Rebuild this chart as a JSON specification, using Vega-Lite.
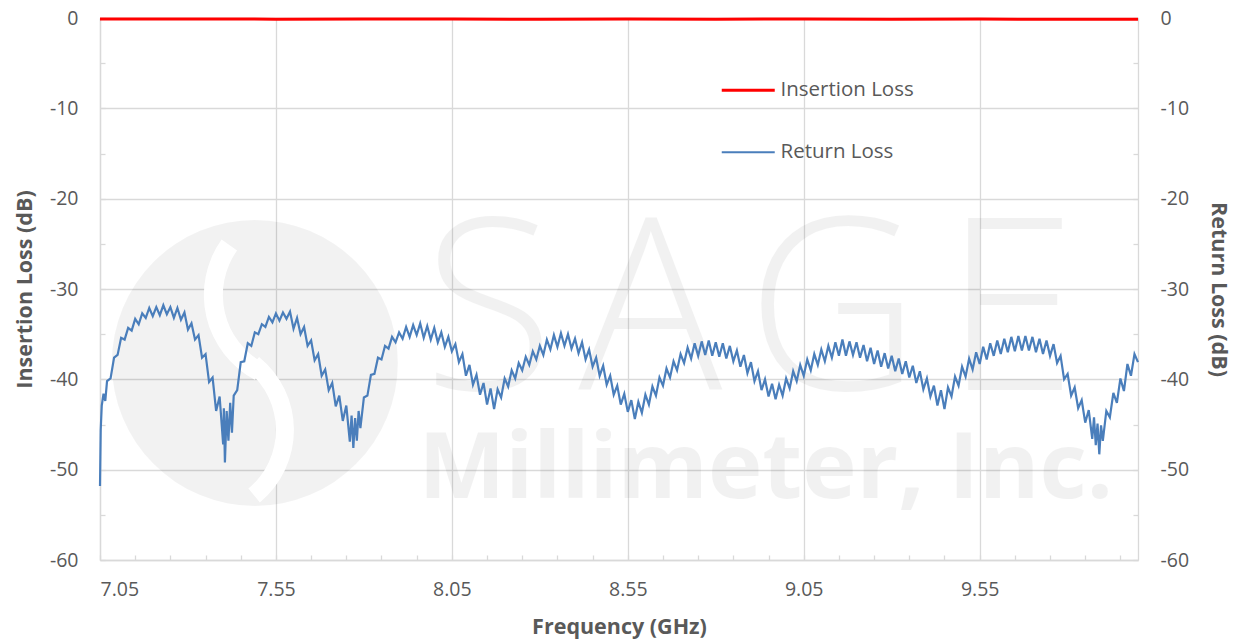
{
  "$schema": "https://vega.github.io/schema/vega-lite/v6.json",
  "width": 1038,
  "height": 542,
  "autosize": {"type": "none"},
  "padding": {"left": 100, "top": 18, "right": 101, "bottom": 82},
  "background": "white",
  "config": {
    "view": {"stroke": null},
    "font": "Open Sans",
    "axis": {
      "domainColor": "#D9D9D9",
      "domainWidth": 1.3,
      "tickColor": "#D9D9D9",
      "tickWidth": 1.3,
      "tickSize": -5,
      "tickCount": 100,
      "gridColor": "#D9D9D9",
      "gridWidth": 1.3,
      "labelColor": "#595959",
      "labelFont": "Open Sans",
      "labelFontSize": 19.5,
      "labelOverlap": false,
      "titleColor": "#595959",
      "titleFont": "Open Sans",
      "titleFontSize": 21.5,
      "titleFontWeight": "bold"
    }
  },
  "datasets": {
    "wm": [
      {"k": "logo", "t": "", "f": 7.49, "v": -38.19},
      {"k": "arc1", "t": "", "f": 7.618, "v": -30.67},
      {"k": "arc2", "t": "", "f": 7.334, "v": -45.61},
      {"k": "big", "t": "S\u200aA\u200aG\u200aE", "f": 8.897, "v": -41.18},
      {"k": "small", "t": "Millimeter, Inc.", "f": 8.942, "v": -53.14}
    ],
    "loss": [
      {"s": "Insertion Loss", "f": 7.05, "v": -0.12},
      {"s": "Insertion Loss", "f": 7.3, "v": -0.1},
      {"s": "Insertion Loss", "f": 7.55, "v": -0.13},
      {"s": "Insertion Loss", "f": 7.8, "v": -0.11},
      {"s": "Insertion Loss", "f": 8.05, "v": -0.12},
      {"s": "Insertion Loss", "f": 8.3, "v": -0.14},
      {"s": "Insertion Loss", "f": 8.55, "v": -0.12},
      {"s": "Insertion Loss", "f": 8.8, "v": -0.13},
      {"s": "Insertion Loss", "f": 9.05, "v": -0.11},
      {"s": "Insertion Loss", "f": 9.3, "v": -0.13},
      {"s": "Insertion Loss", "f": 9.55, "v": -0.12},
      {"s": "Insertion Loss", "f": 9.8, "v": -0.14},
      {"s": "Insertion Loss", "f": 10.0, "v": -0.13},
      {"s": "Return Loss", "f": 7.05, "v": -51.8},
      {"s": "Return Loss", "f": 7.052, "v": -45.6},
      {"s": "Return Loss", "f": 7.055, "v": -42.9},
      {"s": "Return Loss", "f": 7.06, "v": -41.6},
      {"s": "Return Loss", "f": 7.065, "v": -42.4},
      {"s": "Return Loss", "f": 7.07, "v": -40.2},
      {"s": "Return Loss", "f": 7.08, "v": -39.9},
      {"s": "Return Loss", "f": 7.09, "v": -37.6},
      {"s": "Return Loss", "f": 7.1, "v": -37.3},
      {"s": "Return Loss", "f": 7.11, "v": -35.4},
      {"s": "Return Loss", "f": 7.12, "v": -35.6},
      {"s": "Return Loss", "f": 7.13, "v": -34.3},
      {"s": "Return Loss", "f": 7.14, "v": -34.6},
      {"s": "Return Loss", "f": 7.15, "v": -33.3},
      {"s": "Return Loss", "f": 7.16, "v": -33.9},
      {"s": "Return Loss", "f": 7.17, "v": -32.7},
      {"s": "Return Loss", "f": 7.18, "v": -33.2},
      {"s": "Return Loss", "f": 7.19, "v": -32.1},
      {"s": "Return Loss", "f": 7.2, "v": -33.0},
      {"s": "Return Loss", "f": 7.21, "v": -32.0},
      {"s": "Return Loss", "f": 7.22, "v": -32.9},
      {"s": "Return Loss", "f": 7.23, "v": -31.8},
      {"s": "Return Loss", "f": 7.24, "v": -32.8},
      {"s": "Return Loss", "f": 7.25, "v": -32.0},
      {"s": "Return Loss", "f": 7.26, "v": -33.2},
      {"s": "Return Loss", "f": 7.27, "v": -32.1},
      {"s": "Return Loss", "f": 7.28, "v": -33.4},
      {"s": "Return Loss", "f": 7.29, "v": -32.6},
      {"s": "Return Loss", "f": 7.3, "v": -34.5},
      {"s": "Return Loss", "f": 7.31, "v": -33.8},
      {"s": "Return Loss", "f": 7.32, "v": -35.6},
      {"s": "Return Loss", "f": 7.33, "v": -35.1},
      {"s": "Return Loss", "f": 7.34, "v": -37.6},
      {"s": "Return Loss", "f": 7.35, "v": -37.2},
      {"s": "Return Loss", "f": 7.36, "v": -40.3},
      {"s": "Return Loss", "f": 7.37, "v": -39.8},
      {"s": "Return Loss", "f": 7.38, "v": -43.5},
      {"s": "Return Loss", "f": 7.39, "v": -41.9},
      {"s": "Return Loss", "f": 7.4, "v": -47.2},
      {"s": "Return Loss", "f": 7.402, "v": -43.2},
      {"s": "Return Loss", "f": 7.405, "v": -49.2},
      {"s": "Return Loss", "f": 7.41, "v": -43.5},
      {"s": "Return Loss", "f": 7.415, "v": -46.8},
      {"s": "Return Loss", "f": 7.42, "v": -42.6},
      {"s": "Return Loss", "f": 7.425, "v": -45.9},
      {"s": "Return Loss", "f": 7.43, "v": -41.8},
      {"s": "Return Loss", "f": 7.44, "v": -41.2},
      {"s": "Return Loss", "f": 7.45, "v": -38.1},
      {"s": "Return Loss", "f": 7.46, "v": -38.0},
      {"s": "Return Loss", "f": 7.47, "v": -36.0},
      {"s": "Return Loss", "f": 7.48, "v": -36.3},
      {"s": "Return Loss", "f": 7.49, "v": -34.8},
      {"s": "Return Loss", "f": 7.5, "v": -35.0},
      {"s": "Return Loss", "f": 7.51, "v": -33.9},
      {"s": "Return Loss", "f": 7.52, "v": -34.2},
      {"s": "Return Loss", "f": 7.53, "v": -33.1},
      {"s": "Return Loss", "f": 7.54, "v": -33.7},
      {"s": "Return Loss", "f": 7.55, "v": -32.7},
      {"s": "Return Loss", "f": 7.56, "v": -33.5},
      {"s": "Return Loss", "f": 7.57, "v": -32.6},
      {"s": "Return Loss", "f": 7.58, "v": -33.3},
      {"s": "Return Loss", "f": 7.59, "v": -32.5},
      {"s": "Return Loss", "f": 7.6, "v": -34.4},
      {"s": "Return Loss", "f": 7.61, "v": -33.2},
      {"s": "Return Loss", "f": 7.62, "v": -35.0},
      {"s": "Return Loss", "f": 7.63, "v": -34.2},
      {"s": "Return Loss", "f": 7.64, "v": -36.3},
      {"s": "Return Loss", "f": 7.65, "v": -35.7},
      {"s": "Return Loss", "f": 7.66, "v": -37.9},
      {"s": "Return Loss", "f": 7.67, "v": -37.2},
      {"s": "Return Loss", "f": 7.68, "v": -39.6},
      {"s": "Return Loss", "f": 7.69, "v": -38.9},
      {"s": "Return Loss", "f": 7.7, "v": -41.2},
      {"s": "Return Loss", "f": 7.71, "v": -40.4},
      {"s": "Return Loss", "f": 7.72, "v": -43.0},
      {"s": "Return Loss", "f": 7.73, "v": -41.8},
      {"s": "Return Loss", "f": 7.74, "v": -44.6},
      {"s": "Return Loss", "f": 7.75, "v": -42.9},
      {"s": "Return Loss", "f": 7.76, "v": -46.9},
      {"s": "Return Loss", "f": 7.765, "v": -44.0},
      {"s": "Return Loss", "f": 7.77, "v": -47.6},
      {"s": "Return Loss", "f": 7.775, "v": -44.3},
      {"s": "Return Loss", "f": 7.78, "v": -46.8},
      {"s": "Return Loss", "f": 7.785, "v": -43.5},
      {"s": "Return Loss", "f": 7.79, "v": -45.4},
      {"s": "Return Loss", "f": 7.8, "v": -42.0},
      {"s": "Return Loss", "f": 7.81, "v": -41.8},
      {"s": "Return Loss", "f": 7.82, "v": -39.5},
      {"s": "Return Loss", "f": 7.83, "v": -39.4},
      {"s": "Return Loss", "f": 7.84, "v": -37.6},
      {"s": "Return Loss", "f": 7.85, "v": -37.8},
      {"s": "Return Loss", "f": 7.86, "v": -36.3},
      {"s": "Return Loss", "f": 7.87, "v": -36.6},
      {"s": "Return Loss", "f": 7.88, "v": -35.3},
      {"s": "Return Loss", "f": 7.89, "v": -35.9},
      {"s": "Return Loss", "f": 7.9, "v": -34.8},
      {"s": "Return Loss", "f": 7.91, "v": -35.5},
      {"s": "Return Loss", "f": 7.92, "v": -34.2},
      {"s": "Return Loss", "f": 7.93, "v": -35.3},
      {"s": "Return Loss", "f": 7.94, "v": -34.0},
      {"s": "Return Loss", "f": 7.95, "v": -35.1},
      {"s": "Return Loss", "f": 7.96, "v": -33.8},
      {"s": "Return Loss", "f": 7.97, "v": -35.4},
      {"s": "Return Loss", "f": 7.98, "v": -34.1},
      {"s": "Return Loss", "f": 7.99, "v": -35.6},
      {"s": "Return Loss", "f": 8.0, "v": -34.3},
      {"s": "Return Loss", "f": 8.01, "v": -35.9},
      {"s": "Return Loss", "f": 8.02, "v": -34.8},
      {"s": "Return Loss", "f": 8.03, "v": -36.4},
      {"s": "Return Loss", "f": 8.04, "v": -35.3},
      {"s": "Return Loss", "f": 8.05, "v": -36.9},
      {"s": "Return Loss", "f": 8.06, "v": -36.1},
      {"s": "Return Loss", "f": 8.07, "v": -38.1},
      {"s": "Return Loss", "f": 8.08, "v": -37.2},
      {"s": "Return Loss", "f": 8.09, "v": -39.6},
      {"s": "Return Loss", "f": 8.1, "v": -38.4},
      {"s": "Return Loss", "f": 8.11, "v": -40.6},
      {"s": "Return Loss", "f": 8.12, "v": -39.5},
      {"s": "Return Loss", "f": 8.13, "v": -41.7},
      {"s": "Return Loss", "f": 8.14, "v": -40.4},
      {"s": "Return Loss", "f": 8.15, "v": -42.8},
      {"s": "Return Loss", "f": 8.16, "v": -41.0},
      {"s": "Return Loss", "f": 8.17, "v": -43.3},
      {"s": "Return Loss", "f": 8.18, "v": -41.1},
      {"s": "Return Loss", "f": 8.19, "v": -42.0},
      {"s": "Return Loss", "f": 8.2, "v": -39.9},
      {"s": "Return Loss", "f": 8.21, "v": -40.8},
      {"s": "Return Loss", "f": 8.22, "v": -39.0},
      {"s": "Return Loss", "f": 8.23, "v": -39.9},
      {"s": "Return Loss", "f": 8.24, "v": -38.2},
      {"s": "Return Loss", "f": 8.25, "v": -39.0},
      {"s": "Return Loss", "f": 8.26, "v": -37.5},
      {"s": "Return Loss", "f": 8.27, "v": -38.4},
      {"s": "Return Loss", "f": 8.28, "v": -36.9},
      {"s": "Return Loss", "f": 8.29, "v": -37.8},
      {"s": "Return Loss", "f": 8.3, "v": -36.3},
      {"s": "Return Loss", "f": 8.31, "v": -37.3},
      {"s": "Return Loss", "f": 8.32, "v": -35.6},
      {"s": "Return Loss", "f": 8.33, "v": -36.7},
      {"s": "Return Loss", "f": 8.34, "v": -35.1},
      {"s": "Return Loss", "f": 8.35, "v": -36.4},
      {"s": "Return Loss", "f": 8.36, "v": -34.9},
      {"s": "Return Loss", "f": 8.37, "v": -36.3},
      {"s": "Return Loss", "f": 8.38, "v": -35.0},
      {"s": "Return Loss", "f": 8.39, "v": -36.6},
      {"s": "Return Loss", "f": 8.4, "v": -35.5},
      {"s": "Return Loss", "f": 8.41, "v": -37.1},
      {"s": "Return Loss", "f": 8.42, "v": -35.9},
      {"s": "Return Loss", "f": 8.43, "v": -37.8},
      {"s": "Return Loss", "f": 8.44, "v": -36.7},
      {"s": "Return Loss", "f": 8.45, "v": -38.6},
      {"s": "Return Loss", "f": 8.46, "v": -37.6},
      {"s": "Return Loss", "f": 8.47, "v": -39.6},
      {"s": "Return Loss", "f": 8.48, "v": -38.5},
      {"s": "Return Loss", "f": 8.49, "v": -40.6},
      {"s": "Return Loss", "f": 8.5, "v": -39.6},
      {"s": "Return Loss", "f": 8.51, "v": -41.7},
      {"s": "Return Loss", "f": 8.52, "v": -40.7},
      {"s": "Return Loss", "f": 8.53, "v": -42.8},
      {"s": "Return Loss", "f": 8.54, "v": -41.6},
      {"s": "Return Loss", "f": 8.55, "v": -43.6},
      {"s": "Return Loss", "f": 8.56, "v": -42.3},
      {"s": "Return Loss", "f": 8.57, "v": -44.4},
      {"s": "Return Loss", "f": 8.58, "v": -42.5},
      {"s": "Return Loss", "f": 8.59, "v": -43.7},
      {"s": "Return Loss", "f": 8.6, "v": -41.7},
      {"s": "Return Loss", "f": 8.61, "v": -42.8},
      {"s": "Return Loss", "f": 8.62, "v": -40.8},
      {"s": "Return Loss", "f": 8.63, "v": -41.8},
      {"s": "Return Loss", "f": 8.64, "v": -39.8},
      {"s": "Return Loss", "f": 8.65, "v": -40.7},
      {"s": "Return Loss", "f": 8.66, "v": -38.8},
      {"s": "Return Loss", "f": 8.67, "v": -39.8},
      {"s": "Return Loss", "f": 8.68, "v": -38.0},
      {"s": "Return Loss", "f": 8.69, "v": -39.0},
      {"s": "Return Loss", "f": 8.7, "v": -37.2},
      {"s": "Return Loss", "f": 8.71, "v": -38.2},
      {"s": "Return Loss", "f": 8.72, "v": -36.5},
      {"s": "Return Loss", "f": 8.73, "v": -37.7},
      {"s": "Return Loss", "f": 8.74, "v": -36.0},
      {"s": "Return Loss", "f": 8.75, "v": -37.4},
      {"s": "Return Loss", "f": 8.76, "v": -35.8},
      {"s": "Return Loss", "f": 8.77, "v": -37.3},
      {"s": "Return Loss", "f": 8.78, "v": -35.7},
      {"s": "Return Loss", "f": 8.79, "v": -37.4},
      {"s": "Return Loss", "f": 8.8, "v": -35.9},
      {"s": "Return Loss", "f": 8.81, "v": -37.5},
      {"s": "Return Loss", "f": 8.82, "v": -36.0},
      {"s": "Return Loss", "f": 8.83, "v": -37.7},
      {"s": "Return Loss", "f": 8.84, "v": -36.3},
      {"s": "Return Loss", "f": 8.85, "v": -38.0},
      {"s": "Return Loss", "f": 8.86, "v": -36.8},
      {"s": "Return Loss", "f": 8.87, "v": -38.6},
      {"s": "Return Loss", "f": 8.88, "v": -37.3},
      {"s": "Return Loss", "f": 8.89, "v": -39.3},
      {"s": "Return Loss", "f": 8.9, "v": -38.1},
      {"s": "Return Loss", "f": 8.91, "v": -40.2},
      {"s": "Return Loss", "f": 8.92, "v": -39.1},
      {"s": "Return Loss", "f": 8.93, "v": -41.2},
      {"s": "Return Loss", "f": 8.94, "v": -40.0},
      {"s": "Return Loss", "f": 8.95, "v": -41.9},
      {"s": "Return Loss", "f": 8.96, "v": -40.5},
      {"s": "Return Loss", "f": 8.97, "v": -42.2},
      {"s": "Return Loss", "f": 8.98, "v": -40.6},
      {"s": "Return Loss", "f": 8.99, "v": -41.8},
      {"s": "Return Loss", "f": 9.0, "v": -39.9},
      {"s": "Return Loss", "f": 9.01, "v": -41.0},
      {"s": "Return Loss", "f": 9.02, "v": -39.1},
      {"s": "Return Loss", "f": 9.03, "v": -40.2},
      {"s": "Return Loss", "f": 9.04, "v": -38.4},
      {"s": "Return Loss", "f": 9.05, "v": -39.6},
      {"s": "Return Loss", "f": 9.06, "v": -37.8},
      {"s": "Return Loss", "f": 9.07, "v": -39.0},
      {"s": "Return Loss", "f": 9.08, "v": -37.2},
      {"s": "Return Loss", "f": 9.09, "v": -38.4},
      {"s": "Return Loss", "f": 9.1, "v": -36.7},
      {"s": "Return Loss", "f": 9.11, "v": -38.0},
      {"s": "Return Loss", "f": 9.12, "v": -36.3},
      {"s": "Return Loss", "f": 9.13, "v": -37.6},
      {"s": "Return Loss", "f": 9.14, "v": -35.9},
      {"s": "Return Loss", "f": 9.15, "v": -37.4},
      {"s": "Return Loss", "f": 9.16, "v": -35.6},
      {"s": "Return Loss", "f": 9.17, "v": -37.4},
      {"s": "Return Loss", "f": 9.18, "v": -35.8},
      {"s": "Return Loss", "f": 9.19, "v": -37.3},
      {"s": "Return Loss", "f": 9.2, "v": -35.9},
      {"s": "Return Loss", "f": 9.21, "v": -37.6},
      {"s": "Return Loss", "f": 9.22, "v": -36.2},
      {"s": "Return Loss", "f": 9.23, "v": -38.0},
      {"s": "Return Loss", "f": 9.24, "v": -36.5},
      {"s": "Return Loss", "f": 9.25, "v": -38.3},
      {"s": "Return Loss", "f": 9.26, "v": -36.8},
      {"s": "Return Loss", "f": 9.27, "v": -38.6},
      {"s": "Return Loss", "f": 9.28, "v": -37.1},
      {"s": "Return Loss", "f": 9.29, "v": -38.8},
      {"s": "Return Loss", "f": 9.3, "v": -37.4},
      {"s": "Return Loss", "f": 9.31, "v": -39.1},
      {"s": "Return Loss", "f": 9.32, "v": -37.7},
      {"s": "Return Loss", "f": 9.33, "v": -39.4},
      {"s": "Return Loss", "f": 9.34, "v": -38.0},
      {"s": "Return Loss", "f": 9.35, "v": -39.8},
      {"s": "Return Loss", "f": 9.36, "v": -38.5},
      {"s": "Return Loss", "f": 9.37, "v": -40.4},
      {"s": "Return Loss", "f": 9.38, "v": -39.1},
      {"s": "Return Loss", "f": 9.39, "v": -41.1},
      {"s": "Return Loss", "f": 9.4, "v": -39.9},
      {"s": "Return Loss", "f": 9.41, "v": -41.9},
      {"s": "Return Loss", "f": 9.42, "v": -40.7},
      {"s": "Return Loss", "f": 9.43, "v": -42.9},
      {"s": "Return Loss", "f": 9.44, "v": -41.2},
      {"s": "Return Loss", "f": 9.45, "v": -43.3},
      {"s": "Return Loss", "f": 9.46, "v": -40.9},
      {"s": "Return Loss", "f": 9.47, "v": -41.9},
      {"s": "Return Loss", "f": 9.48, "v": -39.7},
      {"s": "Return Loss", "f": 9.49, "v": -40.7},
      {"s": "Return Loss", "f": 9.5, "v": -38.6},
      {"s": "Return Loss", "f": 9.51, "v": -39.7},
      {"s": "Return Loss", "f": 9.52, "v": -37.7},
      {"s": "Return Loss", "f": 9.53, "v": -38.9},
      {"s": "Return Loss", "f": 9.54, "v": -37.0},
      {"s": "Return Loss", "f": 9.55, "v": -38.3},
      {"s": "Return Loss", "f": 9.56, "v": -36.4},
      {"s": "Return Loss", "f": 9.57, "v": -37.8},
      {"s": "Return Loss", "f": 9.58, "v": -36.0},
      {"s": "Return Loss", "f": 9.59, "v": -37.4},
      {"s": "Return Loss", "f": 9.6, "v": -35.7},
      {"s": "Return Loss", "f": 9.61, "v": -37.2},
      {"s": "Return Loss", "f": 9.62, "v": -35.5},
      {"s": "Return Loss", "f": 9.63, "v": -37.0},
      {"s": "Return Loss", "f": 9.64, "v": -35.3},
      {"s": "Return Loss", "f": 9.65, "v": -36.9},
      {"s": "Return Loss", "f": 9.66, "v": -35.2},
      {"s": "Return Loss", "f": 9.67, "v": -36.8},
      {"s": "Return Loss", "f": 9.68, "v": -35.2},
      {"s": "Return Loss", "f": 9.69, "v": -36.8},
      {"s": "Return Loss", "f": 9.7, "v": -35.3},
      {"s": "Return Loss", "f": 9.71, "v": -37.0},
      {"s": "Return Loss", "f": 9.72, "v": -35.5},
      {"s": "Return Loss", "f": 9.73, "v": -37.2},
      {"s": "Return Loss", "f": 9.74, "v": -35.7},
      {"s": "Return Loss", "f": 9.75, "v": -37.4},
      {"s": "Return Loss", "f": 9.76, "v": -36.1},
      {"s": "Return Loss", "f": 9.77, "v": -38.2},
      {"s": "Return Loss", "f": 9.78, "v": -37.4},
      {"s": "Return Loss", "f": 9.79, "v": -40.0},
      {"s": "Return Loss", "f": 9.8, "v": -39.4},
      {"s": "Return Loss", "f": 9.81, "v": -41.8},
      {"s": "Return Loss", "f": 9.82, "v": -40.9},
      {"s": "Return Loss", "f": 9.83, "v": -43.2},
      {"s": "Return Loss", "f": 9.84, "v": -42.3},
      {"s": "Return Loss", "f": 9.85, "v": -44.8},
      {"s": "Return Loss", "f": 9.86, "v": -43.4},
      {"s": "Return Loss", "f": 9.87, "v": -46.6},
      {"s": "Return Loss", "f": 9.875, "v": -44.2},
      {"s": "Return Loss", "f": 9.88, "v": -47.3},
      {"s": "Return Loss", "f": 9.885, "v": -44.9},
      {"s": "Return Loss", "f": 9.89, "v": -48.3},
      {"s": "Return Loss", "f": 9.895, "v": -45.1},
      {"s": "Return Loss", "f": 9.9, "v": -46.8},
      {"s": "Return Loss", "f": 9.91, "v": -43.5},
      {"s": "Return Loss", "f": 9.92, "v": -44.2},
      {"s": "Return Loss", "f": 9.93, "v": -41.5},
      {"s": "Return Loss", "f": 9.94, "v": -42.6},
      {"s": "Return Loss", "f": 9.95, "v": -39.9},
      {"s": "Return Loss", "f": 9.96, "v": -41.3},
      {"s": "Return Loss", "f": 9.97, "v": -38.3},
      {"s": "Return Loss", "f": 9.98, "v": -39.6},
      {"s": "Return Loss", "f": 9.99, "v": -37.2},
      {"s": "Return Loss", "f": 10.0, "v": -38.1}
    ]
  },
  "layer": [
    {
      "encoding": {
        "x": {
          "field": "f",
          "type": "quantitative",
          "scale": {"domain": [7.05, 10.0], "nice": false, "zero": false},
          "axis": {
            "title": "Frequency (GHz)",
            "values": [7.05, 7.15, 7.25, 7.35, 7.45, 7.55, 7.65, 7.75, 7.85, 7.95, 8.05, 8.15, 8.25, 8.35, 8.45, 8.55, 8.65, 8.75, 8.85, 8.95, 9.05, 9.15, 9.25, 9.35, 9.45, 9.55, 9.65, 9.75, 9.85, 9.95],
            "tickCount": 100,
            "labelExpr": "abs((datum.value * 100) % 50 - 5) < 0.5 ? format(datum.value, '.2f') : ''",
            "gridOpacity": {"condition": {"test": "abs((datum.value * 100) % 50 - 5) > 0.5", "value": 0}, "value": 1},
            "labelPadding": 25,
            "titlePadding": 18
          }
        },
        "y": {
          "field": "v",
          "type": "quantitative",
          "scale": {"domain": [-60, 0], "nice": false, "zero": false},
          "axis": {
            "orient": "left",
            "title": "Insertion Loss (dB)",
            "values": [-60, -55, -50, -45, -40, -35, -30, -25, -20, -15, -10, -5, 0],
            "tickCount": 100,
            "labelExpr": "datum.value % 10 === 0 ? '' + datum.value : ''",
            "gridOpacity": {"condition": {"test": "datum.value % 10 !== 0", "value": 0}, "value": 1},
            "labelPadding": 27,
            "titlePadding": 13
          }
        }
      },
      "layer": [
        {
          "data": {"name": "wm"},
          "transform": [{"filter": "datum.k === 'logo'"}],
          "mark": {"type": "point", "shape": "circle", "filled": true, "color": "#000000", "opacity": 0.05, "size": 81796},
          "encoding": {}
        },
        {
          "data": {"name": "wm"},
          "transform": [{"filter": "datum.k === 'arc1'"}],
          "mark": {"type": "arc", "color": "#FFFFFF", "opacity": 1, "radius": 96, "radius2": 77, "theta": 3.63, "theta2": 5.33},
          "encoding": {}
        },
        {
          "data": {"name": "wm"},
          "transform": [{"filter": "datum.k === 'arc2'"}],
          "mark": {"type": "arc", "color": "#FFFFFF", "opacity": 1, "radius": 94, "radius2": 76, "theta": 0.68, "theta2": 2.45},
          "encoding": {}
        },
        {
          "data": {"name": "wm"},
          "transform": [{"filter": "datum.k === 'big'"}],
          "mark": {"type": "text", "font": "Open Sans", "fontWeight": 300, "fontSize": 240, "color": "#000000", "opacity": 0.05, "align": "center", "baseline": "alphabetic"},
          "encoding": {"text": {"field": "t"}}
        },
        {
          "data": {"name": "wm"},
          "transform": [{"filter": "datum.k === 'small'"}],
          "mark": {"type": "text", "font": "Open Sans", "fontWeight": "bold", "fontSize": 92, "color": "#000000", "opacity": 0.05, "align": "center", "baseline": "alphabetic"},
          "encoding": {"text": {"field": "t"}}
        },
        {
          "data": {"name": "loss"},
          "transform": [{"filter": "datum.s === 'Insertion Loss'"}],
          "mark": {"type": "line", "strokeWidth": 3, "clip": false},
          "encoding": {
            "color": {
              "field": "s",
              "type": "nominal",
              "scale": {"domain": ["Insertion Loss", "Return Loss"], "range": ["#FF0000", "#4A7EBB"]},
              "legend": {
                "orient": "none",
                "legendX": 638,
                "legendY": 62,
                "title": null,
                "padding": 0,
                "symbolType": "stroke",
                "symbolSize": 2809,
                "symbolStrokeWidth": 2.5,
                "labelFont": "Open Sans",
                "labelFontSize": 20.5,
                "labelColor": "#595959",
                "labelOffset": 22,
                "rowPadding": 41,
                "encode": {"symbols": {"update": {"strokeWidth": {"signal": "datum.value === 'Insertion Loss' ? 3 : 1.8"}}}}
              }
            }
          }
        }
      ]
    },
    {
      "data": {"name": "loss"},
      "transform": [{"filter": "datum.s === 'Return Loss'"}],
      "mark": {"type": "line", "strokeWidth": 2.2},
      "encoding": {
        "x": {"field": "f", "type": "quantitative", "scale": {"domain": [7.05, 10.0], "nice": false, "zero": false}},
        "y": {
          "field": "v",
          "type": "quantitative",
          "scale": {"domain": [-60, 0], "nice": false, "zero": false},
          "axis": {
            "orient": "right",
            "title": "Return Loss (dB)",
            "values": [-60, -55, -50, -45, -40, -35, -30, -25, -20, -15, -10, -5, 0],
            "tickCount": 100,
            "labelExpr": "datum.value % 10 === 0 ? '' + datum.value : ''",
            "grid": false,
            "labelPadding": 27,
            "titlePadding": 18
          }
        },
        "color": {"field": "s", "type": "nominal", "scale": {"domain": ["Insertion Loss", "Return Loss"], "range": ["#FF0000", "#4A7EBB"]}}
      }
    }
  ],
  "resolve": {"scale": {"y": "independent"}}
}
